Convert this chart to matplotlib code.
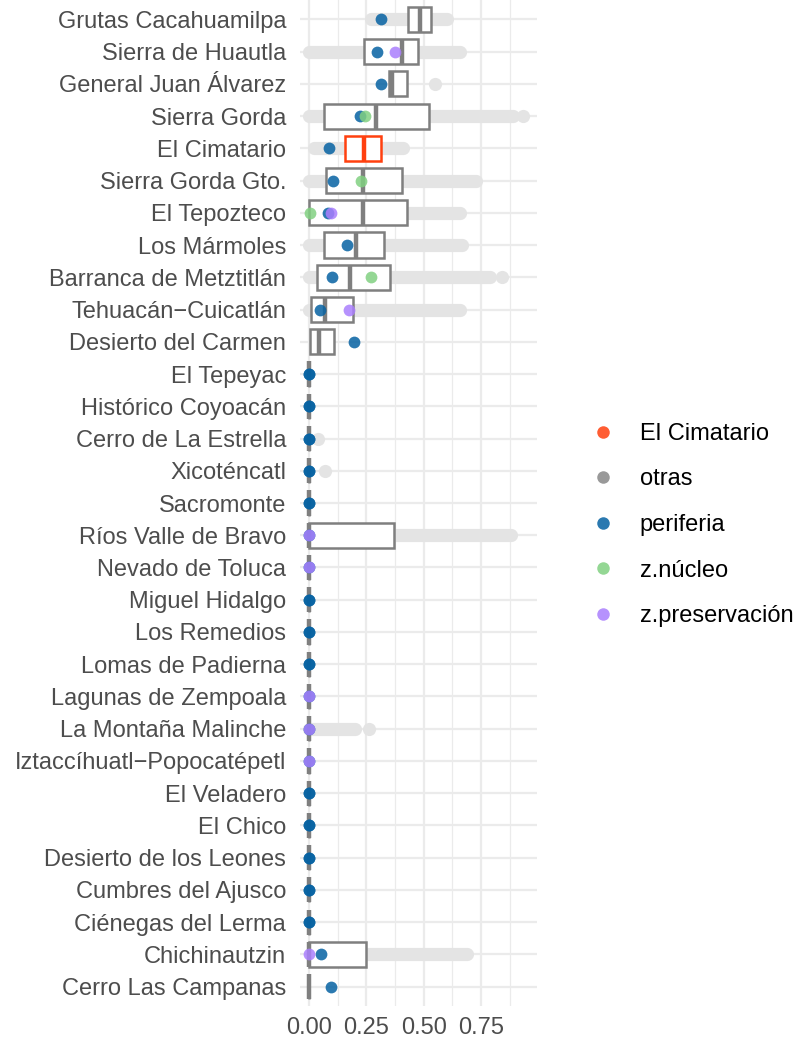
import matplotlib
matplotlib.use("Agg")
import numpy as np
from matplotlib import pyplot as plt
from matplotlib.patches import Rectangle
from matplotlib.lines import Line2D

plt.rcParams['font.family'] = ['Liberation Sans', 'DejaVu Sans']

# Parques, de arriba hacia abajo
parques = ["Grutas Cacahuamilpa", "Sierra de Huautla", "General Juan Álvarez",
           "Sierra Gorda", "El Cimatario", "Sierra Gorda Gto.", "El Tepozteco",
           "Los Mármoles", "Barranca de Metztitlán", "Tehuacán−Cuicatlán",
           "Desierto del Carmen", "El Tepeyac", "Histórico Coyoacán",
           "Cerro de La Estrella", "Xicoténcatl", "Sacromonte",
           "Ríos Valle de Bravo", "Nevado de Toluca", "Miguel Hidalgo",
           "Los Remedios", "Lomas de Padierna", "Lagunas de Zempoala",
           "La Montaña Malinche", "Iztaccíhuatl−Popocatépetl", "El Veladero",
           "El Chico", "Desierto de los Leones", "Cumbres del Ajusco",
           "Ciénegas del Lerma", "Chichinautzin", "Cerro Las Campanas"]

# Cuartiles de cada caja
q1 = [0.432, 0.240, 0.349, 0.066, 0.157, 0.074, 0.000, 0.066, 0.035, 0.009,
      0.004, 0, 0, 0, 0, 0, 0, 0, 0, 0, 0, 0, 0, 0, 0, 0, 0, 0, 0, 0, 0]
mediana = [0.485, 0.406, 0.362, 0.293, 0.240, 0.236, 0.236, 0.205, 0.179, 0.070,
           0.044, 0, 0, 0, 0, 0, 0, 0, 0, 0, 0, 0, 0, 0, 0, 0, 0, 0, 0, 0, 0]
q3 = [0.530, 0.476, 0.428, 0.524, 0.314, 0.406, 0.428, 0.328, 0.354, 0.192,
      0.110, 0, 0, 0, 0, 0, 0.370, 0, 0, 0, 0, 0, 0, 0, 0, 0, 0, 0, 0, 0.250, 0]

# Extension de la nube de puntos grises (otras celdas)
nube_min = [0.27, 0.0, None, 0.0, 0.02, 0.0, 0.40, 0.0, 0.0, 0.0,
            None, None, None, None, None, None, 0.35, None, None, None, None, None,
            0.0, None, None, None, None, None, None, 0.22, None]
nube_max = [0.60, 0.66, None, 0.89, 0.41, 0.73, 0.66, 0.668, 0.79, 0.66,
            None, None, None, None, None, None, 0.88, None, None, None, None, None,
            0.20, None, None, None, None, None, None, 0.69, None]

# Puntos grises aislados
aislado_parque = ["General Juan Álvarez", "Sierra Gorda", "Barranca de Metztitlán",
                  "Cerro de La Estrella", "Xicoténcatl", "La Montaña Malinche"]
aislado_valor = [0.55, 0.935, 0.84, 0.04, 0.07, 0.26]

# Puntos por zona
pt_parque = ["Grutas Cacahuamilpa",
             "Sierra de Huautla", "Sierra de Huautla",
             "General Juan Álvarez",
             "Sierra Gorda", "Sierra Gorda",
             "El Cimatario",
             "Sierra Gorda Gto.", "Sierra Gorda Gto.",
             "El Tepozteco", "El Tepozteco", "El Tepozteco",
             "Los Mármoles",
             "Barranca de Metztitlán", "Barranca de Metztitlán",
             "Tehuacán−Cuicatlán", "Tehuacán−Cuicatlán",
             "Desierto del Carmen",
             "El Tepeyac", "El Tepeyac",
             "Histórico Coyoacán", "Histórico Coyoacán",
             "Cerro de La Estrella", "Cerro de La Estrella",
             "Xicoténcatl", "Xicoténcatl",
             "Sacromonte", "Sacromonte",
             "Ríos Valle de Bravo", "Ríos Valle de Bravo",
             "Nevado de Toluca", "Nevado de Toluca",
             "Miguel Hidalgo", "Miguel Hidalgo",
             "Los Remedios", "Los Remedios",
             "Lomas de Padierna", "Lomas de Padierna",
             "Lagunas de Zempoala", "Lagunas de Zempoala",
             "La Montaña Malinche", "La Montaña Malinche",
             "Iztaccíhuatl−Popocatépetl", "Iztaccíhuatl−Popocatépetl",
             "El Veladero", "El Veladero",
             "El Chico", "El Chico",
             "Desierto de los Leones", "Desierto de los Leones",
             "Cumbres del Ajusco", "Cumbres del Ajusco",
             "Ciénegas del Lerma", "Ciénegas del Lerma",
             "Chichinautzin", "Chichinautzin",
             "Cerro Las Campanas"]
pt_zona = ["periferia",
           "periferia", "z.preservación",
           "periferia",
           "periferia", "z.núcleo",
           "periferia",
           "periferia", "z.núcleo",
           "z.núcleo", "periferia", "z.preservación",
           "periferia",
           "periferia", "z.núcleo",
           "periferia", "z.preservación",
           "periferia",
           "periferia", "periferia",
           "periferia", "periferia",
           "periferia", "periferia",
           "periferia", "periferia",
           "periferia", "periferia",
           "periferia", "z.preservación",
           "periferia", "z.preservación",
           "periferia", "periferia",
           "periferia", "periferia",
           "periferia", "periferia",
           "periferia", "z.preservación",
           "periferia", "z.preservación",
           "periferia", "z.preservación",
           "periferia", "periferia",
           "periferia", "periferia",
           "periferia", "periferia",
           "periferia", "periferia",
           "periferia", "periferia",
           "periferia", "z.preservación",
           "periferia"]
pt_valor = [0.314,
            0.297, 0.376,
            0.314,
            0.220, 0.245,
            0.087,
            0.105, 0.227,
            0.004, 0.083, 0.096,
            0.166,
            0.100, 0.270,
            0.048, 0.175,
            0.197,
            0, 0, 0, 0, 0, 0, 0, 0, 0, 0,
            0, 0, 0, 0, 0, 0, 0, 0, 0, 0,
            0, 0, 0, 0, 0, 0, 0, 0, 0, 0,
            0, 0, 0, 0, 0, 0,
            0.052, 0.0,
            0.096]

colores = {"El Cimatario": "#ff400f", "otras": "#878787", "periferia": "#0662a2",
           "z.núcleo": "#81d081", "z.preservación": "#aa7ffd"}
orden_leyenda = ["El Cimatario", "otras", "periferia", "z.núcleo", "z.preservación"]

gris_texto = "#4d4d4d"
gris_caja = "#7f7f7f"
fs = 17

fig = plt.figure(figsize=(7.99, 10.39), dpi=100)
ax = fig.add_axes([300 / 799, 33 / 1039, 237 / 799, 1006 / 1039])

n = len(parques)
ypos = {p: i for i, p in enumerate(parques)}

# Rejilla
for x in [0, 0.25, 0.5, 0.75]:
    ax.axvline(x, color="#ebebeb", lw=1.6, zorder=0)
for x in [0.125, 0.375, 0.625, 0.875]:
    ax.axvline(x, color="#ebebeb", lw=0.9, zorder=0)
for i in range(n):
    ax.axhline(i, color="#ebebeb", lw=1.6, zorder=0)

# Nube gris
for i in range(n):
    if nube_min[i] is not None:
        ax.plot([nube_min[i], nube_max[i]], [i, i], color="#e4e4e4", lw=9.5,
                solid_capstyle="round", zorder=1)
ax.scatter(aislado_valor, [ypos[p] for p in aislado_parque], s=90,
           color="#e4e4e4", lw=0, zorder=1)

# Cajas
ancho = 0.78
for i, p in enumerate(parques):
    col = "#ff400f" if p == "El Cimatario" else gris_caja
    ax.add_patch(Rectangle((q1[i], i - ancho / 2), q3[i] - q1[i], ancho,
                           facecolor="white", edgecolor=col, lw=1.8, zorder=2))
    ax.plot([mediana[i], mediana[i]], [i - ancho / 2, i + ancho / 2],
            color=col, lw=3.2, solid_capstyle="butt", zorder=3)

# Puntos por zona
for z in orden_leyenda:
    xs = [v for v, zz in zip(pt_valor, pt_zona) if zz == z]
    ys = [ypos[p] for p, zz in zip(pt_parque, pt_zona) if zz == z]
    if xs:
        ax.scatter(xs, ys, s=72, color=colores[z], alpha=0.85, lw=0, zorder=4)

ax.set_xlim(-0.04, 0.995)
ax.set_ylim(n - 0.4, -0.6)
ax.set_yticks(range(n))
ax.set_yticklabels(parques, fontsize=fs, color=gris_texto)
ax.set_xticks([0, 0.25, 0.5, 0.75])
ax.set_xticklabels(["0.00", "0.25", "0.50", "0.75"], fontsize=fs, color=gris_texto)
ax.tick_params(axis="y", length=0, pad=10)
ax.tick_params(axis="x", length=0, pad=8)
for s in ax.spines.values():
    s.set_visible(False)

handles = [Line2D([], [], marker="o", ls="", markersize=9, markeredgewidth=0,
                  color=colores[z], alpha=0.85, label=z) for z in orden_leyenda]
fig.legend(handles=handles, loc="center left", bbox_to_anchor=(579 / 799, 1 - 525 / 1039),
           frameon=False, fontsize=fs, handlelength=1.0, handletextpad=1.08,
           labelspacing=1.0, borderpad=0)

fig.savefig("out.png", dpi=100)
